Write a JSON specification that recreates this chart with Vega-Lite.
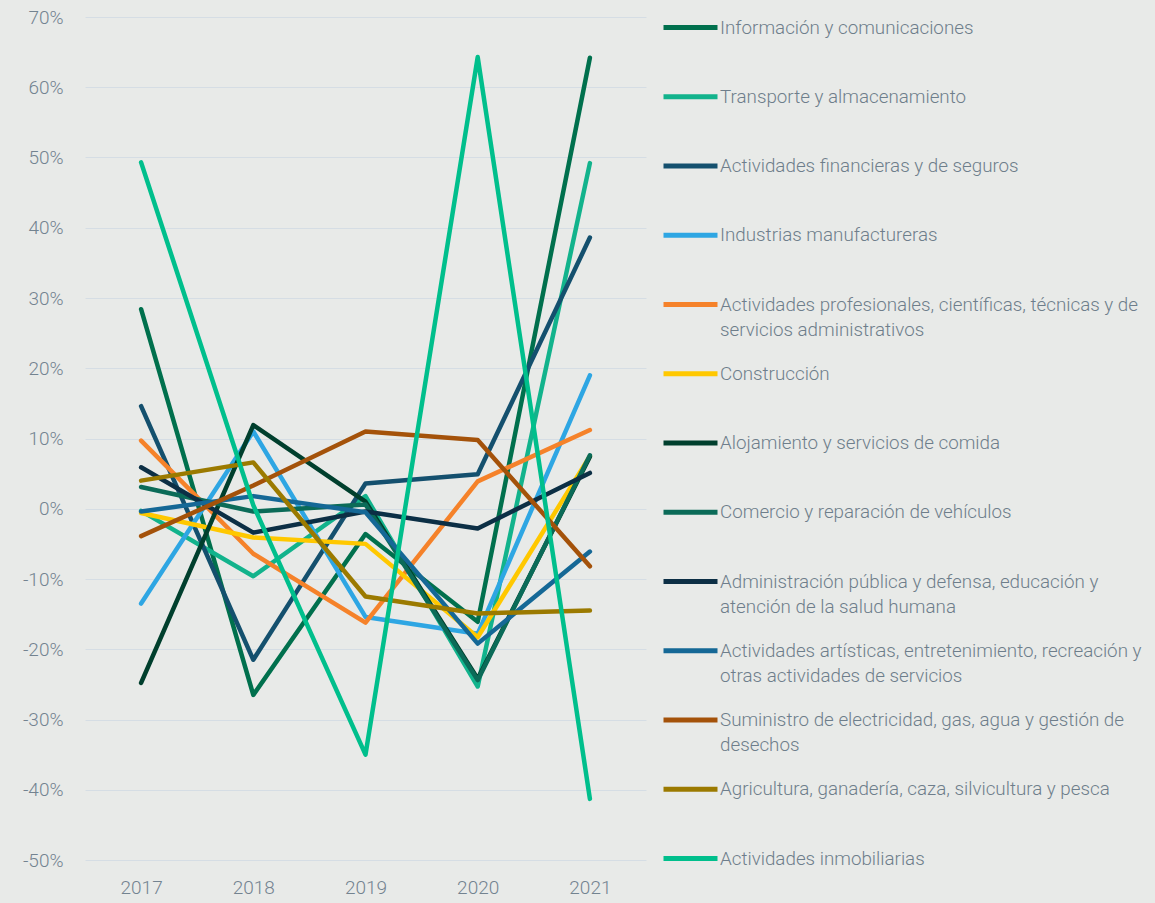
{
  "$schema": "https://vega.github.io/schema/vega-lite/v6.json",
  "width": 561,
  "height": 843,
  "autosize": {"type": "none"},
  "padding": {"left": 85, "top": 17, "right": 509, "bottom": 43},
  "background": "#E8EAE8",
  "datasets": {
    "rows": [
      {"sector": "Información y comunicaciones", "year": "2017", "value": 28.4},
      {"sector": "Información y comunicaciones", "year": "2018", "value": -26.5},
      {"sector": "Información y comunicaciones", "year": "2019", "value": -3.6},
      {"sector": "Información y comunicaciones", "year": "2020", "value": -16.1},
      {"sector": "Información y comunicaciones", "year": "2021", "value": 64.2},
      {"sector": "Transporte y almacenamiento", "year": "2017", "value": -0.3},
      {"sector": "Transporte y almacenamiento", "year": "2018", "value": -9.6},
      {"sector": "Transporte y almacenamiento", "year": "2019", "value": 1.8},
      {"sector": "Transporte y almacenamiento", "year": "2020", "value": -25.3},
      {"sector": "Transporte y almacenamiento", "year": "2021", "value": 49.2},
      {"sector": "Actividades financieras y de seguros", "year": "2017", "value": 14.6},
      {"sector": "Actividades financieras y de seguros", "year": "2018", "value": -21.5},
      {"sector": "Actividades financieras y de seguros", "year": "2019", "value": 3.6},
      {"sector": "Actividades financieras y de seguros", "year": "2020", "value": 4.9},
      {"sector": "Actividades financieras y de seguros", "year": "2021", "value": 38.6},
      {"sector": "Industrias manufactureras", "year": "2017", "value": -13.5},
      {"sector": "Industrias manufactureras", "year": "2018", "value": 11.0},
      {"sector": "Industrias manufactureras", "year": "2019", "value": -15.4},
      {"sector": "Industrias manufactureras", "year": "2020", "value": -17.8},
      {"sector": "Industrias manufactureras", "year": "2021", "value": 19.0},
      {"sector": "Actividades profesionales, científicas, técnicas y de servicios administrativos", "year": "2017", "value": 9.7},
      {"sector": "Actividades profesionales, científicas, técnicas y de servicios administrativos", "year": "2018", "value": -6.4},
      {"sector": "Actividades profesionales, científicas, técnicas y de servicios administrativos", "year": "2019", "value": -16.2},
      {"sector": "Actividades profesionales, científicas, técnicas y de servicios administrativos", "year": "2020", "value": 3.9},
      {"sector": "Actividades profesionales, científicas, técnicas y de servicios administrativos", "year": "2021", "value": 11.2},
      {"sector": "Construcción", "year": "2017", "value": -0.6},
      {"sector": "Construcción", "year": "2018", "value": -4.1},
      {"sector": "Construcción", "year": "2019", "value": -5.0},
      {"sector": "Construcción", "year": "2020", "value": -18.3},
      {"sector": "Construcción", "year": "2021", "value": 7.5},
      {"sector": "Alojamiento y servicios de comida", "year": "2017", "value": -24.8},
      {"sector": "Alojamiento y servicios de comida", "year": "2018", "value": 11.9},
      {"sector": "Alojamiento y servicios de comida", "year": "2019", "value": 1.0},
      {"sector": "Alojamiento y servicios de comida", "year": "2020", "value": -24.2},
      {"sector": "Alojamiento y servicios de comida", "year": "2021", "value": 7.4},
      {"sector": "Comercio y reparación de vehículos", "year": "2017", "value": 3.1},
      {"sector": "Comercio y reparación de vehículos", "year": "2018", "value": -0.4},
      {"sector": "Comercio y reparación de vehículos", "year": "2019", "value": 0.6},
      {"sector": "Comercio y reparación de vehículos", "year": "2020", "value": -24.4},
      {"sector": "Comercio y reparación de vehículos", "year": "2021", "value": 7.6},
      {"sector": "Administración pública y defensa, educación y atención de la salud humana", "year": "2017", "value": 5.9},
      {"sector": "Administración pública y defensa, educación y atención de la salud humana", "year": "2018", "value": -3.4},
      {"sector": "Administración pública y defensa, educación y atención de la salud humana", "year": "2019", "value": -0.4},
      {"sector": "Administración pública y defensa, educación y atención de la salud humana", "year": "2020", "value": -2.8},
      {"sector": "Administración pública y defensa, educación y atención de la salud humana", "year": "2021", "value": 5.1},
      {"sector": "Actividades artísticas, entretenimiento, recreación y otras actividades de servicios", "year": "2017", "value": -0.4},
      {"sector": "Actividades artísticas, entretenimiento, recreación y otras actividades de servicios", "year": "2018", "value": 1.8},
      {"sector": "Actividades artísticas, entretenimiento, recreación y otras actividades de servicios", "year": "2019", "value": -0.5},
      {"sector": "Actividades artísticas, entretenimiento, recreación y otras actividades de servicios", "year": "2020", "value": -19.2},
      {"sector": "Actividades artísticas, entretenimiento, recreación y otras actividades de servicios", "year": "2021", "value": -6.1},
      {"sector": "Suministro de electricidad, gas, agua y gestión de desechos", "year": "2017", "value": -3.9},
      {"sector": "Suministro de electricidad, gas, agua y gestión de desechos", "year": "2018", "value": 3.3},
      {"sector": "Suministro de electricidad, gas, agua y gestión de desechos", "year": "2019", "value": 11.0},
      {"sector": "Suministro de electricidad, gas, agua y gestión de desechos", "year": "2020", "value": 9.8},
      {"sector": "Suministro de electricidad, gas, agua y gestión de desechos", "year": "2021", "value": -8.2},
      {"sector": "Agricultura, ganadería, caza, silvicultura y pesca", "year": "2017", "value": 4.0},
      {"sector": "Agricultura, ganadería, caza, silvicultura y pesca", "year": "2018", "value": 6.6},
      {"sector": "Agricultura, ganadería, caza, silvicultura y pesca", "year": "2019", "value": -12.5},
      {"sector": "Agricultura, ganadería, caza, silvicultura y pesca", "year": "2020", "value": -14.9},
      {"sector": "Agricultura, ganadería, caza, silvicultura y pesca", "year": "2021", "value": -14.5},
      {"sector": "Actividades inmobiliarias", "year": "2017", "value": 49.3},
      {"sector": "Actividades inmobiliarias", "year": "2018", "value": 0.5},
      {"sector": "Actividades inmobiliarias", "year": "2019", "value": -35.0},
      {"sector": "Actividades inmobiliarias", "year": "2020", "value": 64.3},
      {"sector": "Actividades inmobiliarias", "year": "2021", "value": -41.3}
    ]
  },
  "data": {"name": "rows"},
  "mark": {"type": "line", "strokeWidth": 4.5, "strokeCap": "round", "strokeJoin": "round"},
  "encoding": {
    "x": {
      "field": "year", "type": "ordinal",
      "scale": {"type": "point", "padding": 0.5},
      "axis": {"title": null, "labelAngle": 0, "domain": false, "ticks": false, "labelPadding": 18, "labelFontSize": 19, "grid": false}
    },
    "y": {
      "field": "value", "type": "quantitative",
      "scale": {"domain": [-50, 70], "nice": false, "zero": false},
      "axis": {
        "title": null, "values": [-50, -40, -30, -20, -10, 0, 10, 20, 30, 40, 50, 60, 70],
        "labelExpr": "datum.value + '%'", "domain": false, "ticks": false, "labelPadding": 22,
        "labelFontSize": 19, "grid": true, "gridColor": "#D5DDE4", "gridWidth": 1.2
      }
    },
    "color": {
      "field": "sector", "type": "nominal",
      "sort": [
        "Información y comunicaciones",
        "Transporte y almacenamiento",
        "Actividades financieras y de seguros",
        "Industrias manufactureras",
        "Actividades profesionales, científicas, técnicas y de servicios administrativos",
        "Construcción",
        "Alojamiento y servicios de comida",
        "Comercio y reparación de vehículos",
        "Administración pública y defensa, educación y atención de la salud humana",
        "Actividades artísticas, entretenimiento, recreación y otras actividades de servicios",
        "Suministro de electricidad, gas, agua y gestión de desechos",
        "Agricultura, ganadería, caza, silvicultura y pesca",
        "Actividades inmobiliarias"
      ],
      "scale": {
        "range": ["#00704D", "#12B38C", "#14506E", "#2EA6E3", "#F5822A", "#FFC800", "#003F2D", "#0B6B58", "#0C2F45", "#156896", "#A4520A", "#9B7A00", "#00BF8C"]
      },
      "legend": {
        "title": null,
        "orient": "none",
        "legendX": 576,
        "legendY": -19,
        "padding": 0,
        "rowPadding": 4.25,
        "symbolType": "stroke",
        "symbolSize": 2916,
        "symbolStrokeWidth": 5,
        "labelOffset": 0,
        "labelFontSize": 18.8,
        "labelLimit": 600,
        "labelBaseline": "middle",
        "labelExpr": "datum.label == 'Actividades profesionales, científicas, técnicas y de servicios administrativos' ? ['Actividades profesionales, científicas, técnicas y de', 'servicios administrativos'] : datum.label == 'Administración pública y defensa, educación y atención de la salud humana' ? ['Administración pública y defensa, educación y', 'atención de la salud humana'] : datum.label == 'Actividades artísticas, entretenimiento, recreación y otras actividades de servicios' ? ['Actividades artísticas, entretenimiento, recreación y', 'otras actividades de servicios'] : datum.label == 'Suministro de electricidad, gas, agua y gestión de desechos' ? ['Suministro de electricidad, gas, agua y gestión de', 'desechos'] : [datum.label, '']"
      }
    }
  },
  "config": {
    "font": "Roboto",
    "view": {"stroke": null},
    "axis": {"labelColor": "#738390", "labelFont": "Roboto", "labelFontWeight": 300},
    "legend": {"labelColor": "#6E7E8B", "labelFont": "Roboto", "labelFontWeight": 300},
    "style": {"guide-label": {"lineHeight": 25}}
  }
}
